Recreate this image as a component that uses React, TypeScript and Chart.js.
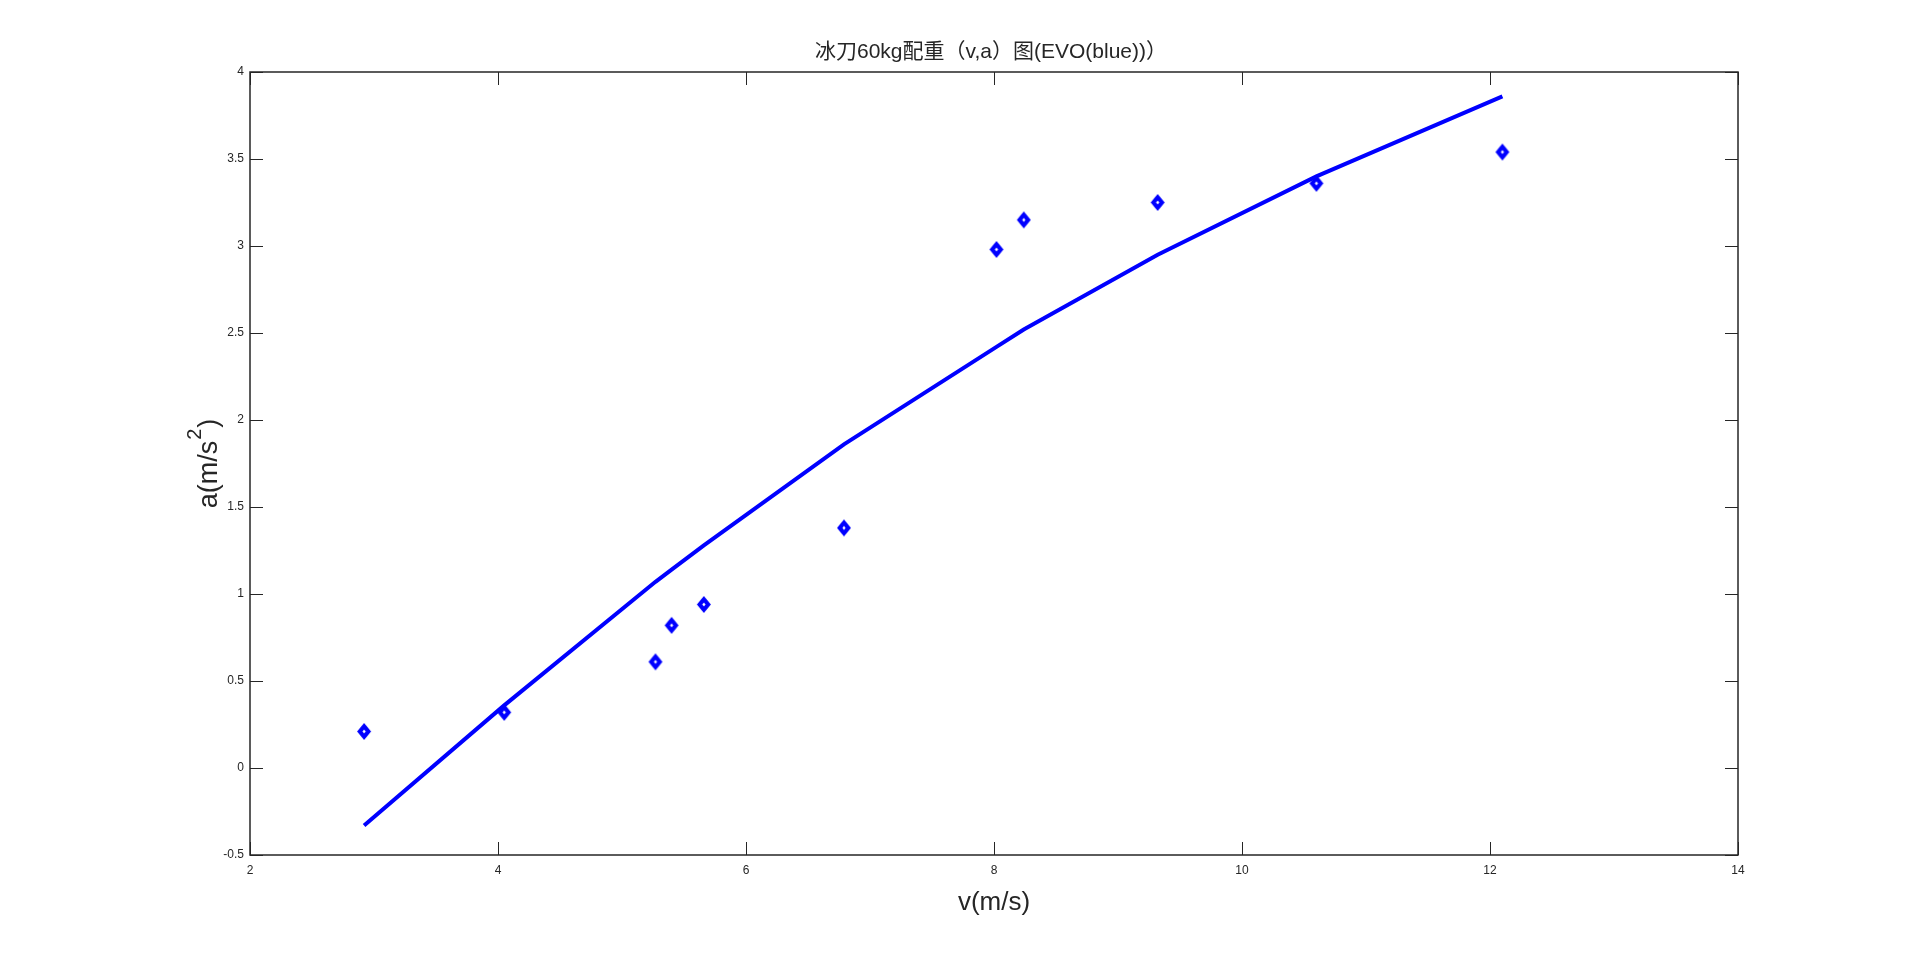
import React, { useEffect, useRef } from "react";
import { Chart, registerables } from "chart.js";

Chart.register(...registerables);

const chartTitle = "冰刀60kg配重（v,a）图(EVO(blue))）";
const xAxisTitle = "v(m/s)";
const yAxisTitleMain = "a(m/s";
const yAxisTitleSup = "2";
const yAxisTitleEnd = ")";

const speedValues = [2.92, 4.05, 5.27, 5.4, 5.66, 6.79, 8.02, 8.24, 9.32, 10.6, 12.1];
const accelMeasured = [0.21, 0.32, 0.61, 0.82, 0.94, 1.38, 2.98, 3.15, 3.25, 3.36, 3.54];
const accelFit = [-0.33, 0.36, 1.07, 1.14, 1.28, 1.86, 2.42, 2.52, 2.95, 3.4, 3.86];

const xTicks = [2, 4, 6, 8, 10, 12, 14];
const yTicks = [-0.5, 0, 0.5, 1, 1.5, 2, 2.5, 3, 3.5, 4];

const FONT = '"Liberation Sans", Arial, "Noto Sans CJK SC", sans-serif';
const AXIS_COLOR = "#262626";
const BLUE = "#0000FF";

function makeDiamond(): HTMLCanvasElement {
  const c = document.createElement("canvas");
  c.width = 16;
  c.height = 19;
  const g = c.getContext("2d")!;
  g.fillStyle = BLUE;
  g.beginPath();
  g.moveTo(8, 1);
  g.lineTo(15, 9.5);
  g.lineTo(8, 18);
  g.lineTo(1, 9.5);
  g.closePath();
  g.fill();
  g.fillStyle = "#FFFFFF";
  g.beginPath();
  g.moveTo(8, 7.6);
  g.lineTo(9.6, 9.5);
  g.lineTo(8, 11.4);
  g.lineTo(6.4, 9.5);
  g.closePath();
  g.fill();
  return c;
}

const boxPlugin = {
  id: "matlabBox",
  afterDraw(chart: any) {
    const { ctx, chartArea } = chart;
    const { left, right, top, bottom } = chartArea;
    const xs = chart.scales.x;
    const ys = chart.scales.y;
    const len = 13;
    ctx.save();
    ctx.strokeStyle = AXIS_COLOR;
    ctx.lineWidth = 1.5;
    ctx.strokeRect(left, top, right - left, bottom - top);
    ctx.lineWidth = 1;
    ctx.beginPath();
    xTicks.forEach((v) => {
      const px = Math.round(xs.getPixelForValue(v)) + 0.5;
      ctx.moveTo(px, bottom);
      ctx.lineTo(px, bottom - len);
      ctx.moveTo(px, top);
      ctx.lineTo(px, top + len);
    });
    yTicks.forEach((v) => {
      const py = Math.round(ys.getPixelForValue(v)) + 0.5;
      ctx.moveTo(left, py);
      ctx.lineTo(left + len, py);
      ctx.moveTo(right, py);
      ctx.lineTo(right - len, py);
    });
    ctx.stroke();

    // chart title centered over the plot area
    ctx.fillStyle = AXIS_COLOR;
    ctx.font = `21px ${FONT}`;
    ctx.textAlign = "center";
    ctx.textBaseline = "middle";
    ctx.fillText(chartTitle, (left + right) / 2 - 3, 52);

    // y-axis title with superscript
    ctx.translate(208, (top + bottom) / 2);
    ctx.rotate(-Math.PI / 2);
    const mainFont = `27px ${FONT}`;
    const supFont = `20px ${FONT}`;
    ctx.font = mainFont;
    const w1 = ctx.measureText(yAxisTitleMain).width;
    ctx.font = supFont;
    const w2 = ctx.measureText(yAxisTitleSup).width + 2;
    ctx.font = mainFont;
    const w3 = ctx.measureText(yAxisTitleEnd).width;
    const total = w1 + w2 + w3;
    let x0 = -total / 2;
    ctx.textAlign = "left";
    ctx.textBaseline = "alphabetic";
    ctx.font = mainFont;
    ctx.fillText(yAxisTitleMain, x0, 9);
    x0 += w1 + 1;
    ctx.font = supFont;
    ctx.fillText(yAxisTitleSup, x0, -7);
    x0 += w2 - 1;
    ctx.font = mainFont;
    ctx.fillText(yAxisTitleEnd, x0, 9);
    ctx.restore();
  },
};

export default function App() {
  const canvasRef = useRef<HTMLCanvasElement | null>(null);

  useEffect(() => {
    if (!canvasRef.current) return;
    const diamond = makeDiamond();
    const chart = new Chart(canvasRef.current, {
      type: "scatter",
      data: {
        datasets: [
          {
            label: "fit",
            data: speedValues.map((v, i) => ({ x: v, y: accelFit[i] })),
            showLine: true,
            borderColor: BLUE,
            borderWidth: 4,
            pointRadius: 0,
            fill: false,
            order: 2,
          },
          {
            label: "measured",
            data: speedValues.map((v, i) => ({ x: v, y: accelMeasured[i] })),
            showLine: false,
            pointStyle: diamond,
            pointRadius: 8,
            order: 1,
          },
        ],
      },
      plugins: [boxPlugin],
      options: {
        animation: false,
        responsive: false,
        devicePixelRatio: 1,
        layout: { padding: { left: 0, right: 182, top: 72, bottom: 0 } },
        plugins: {
          legend: { display: false },
          tooltip: { enabled: false },
          title: { display: false },
        },
        scales: {
          x: {
            type: "linear",
            min: 2,
            max: 14,
            afterBuildTicks: (scale: any) => {
              scale.ticks = xTicks.map((v) => ({ value: v }));
            },
            afterFit: (scale: any) => {
              scale.height = 107;
            },
            grid: { display: false, drawTicks: false },
            border: { display: false },
            ticks: {
              color: AXIS_COLOR,
              font: { family: FONT, size: 12 },
              padding: 8,
              maxRotation: 0,
              callback: (v: any) => String(v),
            },
            title: {
              display: true,
              text: xAxisTitle,
              color: AXIS_COLOR,
              font: { family: FONT, size: 26 },
              padding: { top: 0, bottom: 44 },
            },
          },
          y: {
            type: "linear",
            min: -0.5,
            max: 4,
            afterBuildTicks: (scale: any) => {
              scale.ticks = yTicks.map((v) => ({ value: v }));
            },
            afterFit: (scale: any) => {
              scale.width = 250;
            },
            grid: { display: false, drawTicks: false },
            border: { display: false },
            ticks: {
              color: AXIS_COLOR,
              font: { family: FONT, size: 12 },
              padding: 6,
              callback: (v: any) => String(v),
            },
            title: { display: false },
          },
        },
      },
    } as any);
    return () => chart.destroy();
  }, []);

  return (
    <div style={{ position: "fixed", left: 0, top: 0, width: 1920, height: 962, background: "#fff" }}>
      <canvas ref={canvasRef} width={1920} height={962} style={{ width: 1920, height: 962 }} />
    </div>
  );
}
